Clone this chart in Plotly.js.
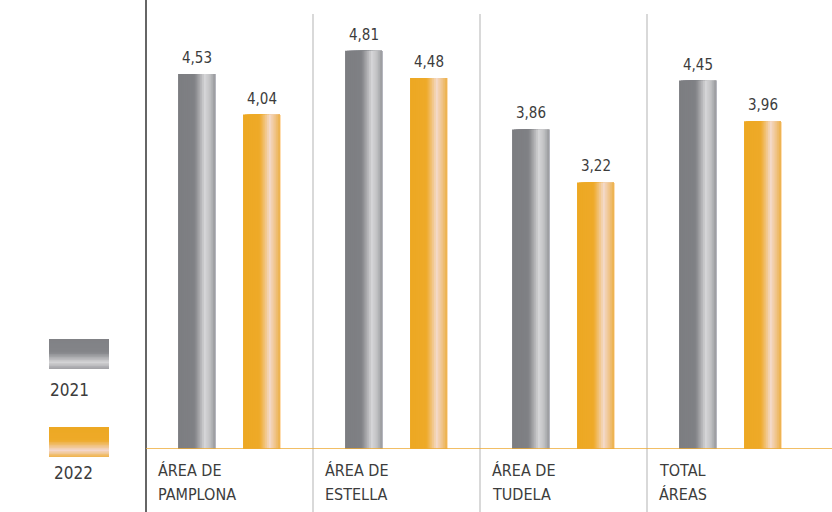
<!DOCTYPE html>
<html><head><meta charset="utf-8">
<script src="https://cdn.plot.ly/plotly-3.0.1.min.js"></script>
<style>html,body{margin:0;padding:0;background:#fff}#chart{width:832px;height:512px}</style>
</head><body><div id="chart"></div>
<script>
const categories = ['ÁREA DE<br>PAMPLONA', 'ÁREA DE<br>ESTELLA', 'ÁREA DE<br>TUDELA', 'TOTAL<br>ÁREAS'];
const seriesNames = ['2021', '2022'];
const values2021 = [4.53, 4.81, 3.86, 4.45];
const values2022 = [4.04, 4.48, 3.22, 3.96];

const FONT = '"Liberation Sans Narrow", "DejaVu Sans Condensed", "Roboto Condensed", sans-serif';
const TXT = '#3c3c3c';

// horizontal gradient stops for bars [pos, [r,g,b]]
const grayStops = [[0, [124,125,129]], [0.45, [128,129,133]], [0.72, [214,214,216]], [0.85, [196,196,198]], [1, [150,151,155]]];
const orangeStops = [[0, [237,168,35]], [0.45, [238,170,40]], [0.72, [244,218,202]], [0.86, [240,196,140]], [1, [236,176,70]]];
function interp(stops, t) {
  for (let i = 1; i < stops.length; i++) {
    if (t <= stops[i][0]) {
      const a = stops[i-1], b = stops[i];
      const f = (t - a[0]) / (b[0] - a[0]);
      const c = a[1].map((v, j) => Math.round(v + (b[1][j] - v) * f));
      return 'rgb(' + c.join(',') + ')';
    }
  }
  return 'rgb(' + stops[stops.length-1][1].join(',') + ')';
}

const barW = 0.2216;
const leftOff = [-0.308, 0.081];
const series = [values2021, values2022];
const stopsBy = [grayStops, orangeStops];
const N = 20;
const traces = [];
series.forEach((vals, s) => {
  const sw = barW / N;
  for (let k = 0; k < N; k++) {
    const w = barW - k * sw;
    traces.push({
      type: 'bar',
      x: categories.map((c, i) => i + leftOff[s] + k * sw + w / 2),
      y: vals,
      width: w,
      marker: {color: interp(stopsBy[s], (k + 0.5) / N), line: {width: 0}},
      hoverinfo: 'skip',
      showlegend: false
    });
  }
});

const annotations = [];
series.forEach((vals, s) => {
  vals.forEach((v, i) => {
    annotations.push({
      x: i + leftOff[s] + barW / 2, y: v, xref: 'x', yref: 'y',
      text: v.toFixed(2).replace('.', ','), showarrow: false,
      yanchor: 'bottom', yshift: 5,
      font: {family: FONT, size: 15, color: TXT}
    });
  });
});

function px2paperX(px) { return (px - 146) / 668; }
function px2paperY(py) { return (449 - py) / 449; }

categories.forEach((c, i) => {
  c.split('<br>').forEach((line, j) => {
    annotations.push({
      x: i - 0.44, y: px2paperY(470 + j * 24), xref: 'x', yref: 'paper',
      text: line, showarrow: false, xanchor: 'left', yanchor: 'middle', align: 'left',
      font: {family: FONT, size: 16, color: TXT}
    });
  });
});

annotations.push({x: px2paperX(48), y: px2paperY(390), xref: 'paper', yref: 'paper', text: seriesNames[0], showarrow: false, xanchor: 'left', yanchor: 'middle', font: {family: FONT, size: 17, color: TXT}});
annotations.push({x: px2paperX(52), y: px2paperY(473), xref: 'paper', yref: 'paper', text: seriesNames[1], showarrow: false, xanchor: 'left', yanchor: 'middle', font: {family: FONT, size: 17, color: TXT}});

const shapes = [];
[0.5, 1.5, 2.5].forEach(x => shapes.push({type: 'line', xref: 'x', yref: 'paper', x0: x, x1: x, y0: 1 - 14/449, y1: -63/449, line: {color: '#c0c0c0', width: 1.2}}));
shapes.push({type: 'line', xref: 'paper', yref: 'paper', x0: 0, x1: 0, y0: 1, y1: -63/449, line: {color: '#333', width: 1.5}});
shapes.push({type: 'line', xref: 'paper', yref: 'y', x0: 0, x1: 1 + 18/668, y0: 0, y1: 0, line: {color: '#eeaa33', width: 1.5}});

const vGray = [[0, [128,129,133]], [0.45, [132,133,137]], [0.78, [212,212,214]], [1, [158,158,162]]];
const vOrange = [[0, [237,168,35]], [0.45, [238,170,40]], [0.78, [244,216,206]], [1, [238,178,70]]];
[[339, vGray], [427, vOrange]].forEach(([top, stops]) => {
  const M = 20, h = 30;
  for (let k = 0; k < M; k++) {
    shapes.push({type: 'rect', xref: 'paper', yref: 'paper', layer: 'above',
      x0: px2paperX(49), x1: px2paperX(109),
      y0: px2paperY(top + k * h / M), y1: px2paperY(top + h),
      fillcolor: interp(stops, (k + 0.5) / M), line: {width: 0}});
  }
});

const layout = {
  width: 832, height: 512,
  margin: {l: 146, r: 18, t: 0, b: 63},
  paper_bgcolor: '#fff', plot_bgcolor: '#fff',
  barmode: 'overlay',
  showlegend: false,
  xaxis: {range: [-0.5, 3.5], showticklabels: false, showgrid: false, zeroline: false, showline: false, ticks: '', fixedrange: true},
  yaxis: {range: [0, 5.423], showticklabels: false, showgrid: false, zeroline: false, showline: false, ticks: '', fixedrange: true},
  annotations: annotations,
  shapes: shapes
};

Plotly.newPlot('chart', traces, layout, {displayModeBar: false, staticPlot: true});
</script></body></html>
